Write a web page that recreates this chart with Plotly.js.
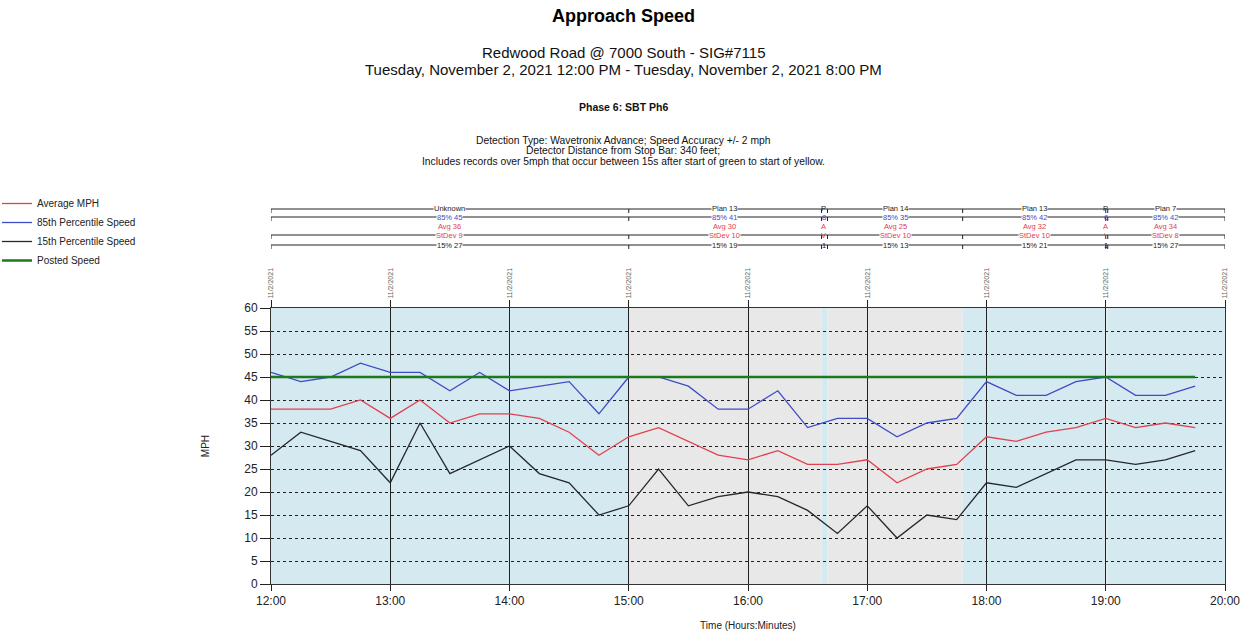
<!DOCTYPE html>
<html>
<head>
<meta charset="utf-8">
<script src="https://cdn.plot.ly/plotly-3.0.1.min.js"></script>
<style>html,body{margin:0;padding:0;background:#fff;}#chart{width:1247px;height:634px;}</style>
</head>
<body>
<div id="chart"></div>
<script>
// ---- data ----
const times = [
  '2021-11-02 12:00','2021-11-02 12:15','2021-11-02 12:30','2021-11-02 12:45',
  '2021-11-02 13:00','2021-11-02 13:15','2021-11-02 13:30','2021-11-02 13:45',
  '2021-11-02 14:00','2021-11-02 14:15','2021-11-02 14:30','2021-11-02 14:45',
  '2021-11-02 15:00','2021-11-02 15:15','2021-11-02 15:30','2021-11-02 15:45',
  '2021-11-02 16:00','2021-11-02 16:15','2021-11-02 16:30','2021-11-02 16:45',
  '2021-11-02 17:00','2021-11-02 17:15','2021-11-02 17:30','2021-11-02 17:45',
  '2021-11-02 18:00','2021-11-02 18:15','2021-11-02 18:30','2021-11-02 18:45',
  '2021-11-02 19:00','2021-11-02 19:15','2021-11-02 19:30','2021-11-02 19:45'
];
const avgMph = [38,38,38,40,36,40,35,37,37,36,33,28, 32,34,31,28,27,29,26,26,27,22,25,26, 32,31,33,34,36,34,35,34];
const pct85  = [46,44,45,48,46,46,42,46,42,43,44,37, 45,45,43,38,38,42,34,36,36,32,35,36, 44,41,41,44,45,41,41,43];
const pct15  = [28,33,31,29,22,35,24,27,30,24,22,15, 17,25,17,19,20,19,16,11,17,10,15,14, 22,21,24,27,27,26,27,29];
const postedTimes = ['2021-11-02 12:00','2021-11-02 19:45'];
const postedSpeed = [45,45];

// plans
const planStarts = ['2021-11-02 12:00','2021-11-02 15:00','2021-11-02 16:37','2021-11-02 16:40','2021-11-02 17:48','2021-11-02 19:00','2021-11-02 19:01'];
const planEnds   = ['2021-11-02 15:00','2021-11-02 16:37','2021-11-02 16:40','2021-11-02 17:48','2021-11-02 19:00','2021-11-02 19:01','2021-11-02 20:00'];
const planNames  = ['Unknown','Plan 13','P','Plan 14','Plan 13','P','Plan 7'];
const plan85     = ['85% 45','85% 41','8','85% 35','85% 42','6','85% 42'];
const planAvg    = ['Avg 36','Avg 30','A','Avg 25','Avg 32','A','Avg 34'];
const planSD     = ['StDev 9','StDev 10','V','StDev 10','StDev 10','\\','StDev 8'];
const plan15     = ['15% 27','15% 19','1','15% 13','15% 21','1','15% 27'];

const FONT = 'Liberation Sans, Arial, sans-serif';

// ---- helpers ----
function tms(s){ return new Date(s.replace(' ','T')+':00Z').getTime(); }
function mid(a,b){ const m = new Date((tms(a)+tms(b))/2); return m.toISOString().slice(0,16).replace('T',' '); }
const PH = 276, PB = 584; // plot height / bottom in px, for paper positions of decorations
function py(px){ return (PB-px)/PH; }

const traces = [
  {x: times, y: avgMph, name: 'Average MPH', type:'scatter', mode:'lines', line:{color:'#e2404e', width:1.3}},
  {x: times, y: pct85, name: '85th Percentile Speed', type:'scatter', mode:'lines', line:{color:'#3d4cc6', width:1.3}},
  {x: times, y: pct15, name: '15th Percentile Speed', type:'scatter', mode:'lines', line:{color:'#23282e', width:1.3}},
  {x: postedTimes, y: postedSpeed, name: 'Posted Speed', type:'scatter', mode:'lines', xaxis:'x2', line:{color:'#1b7a1b', width:2.5}}
];

const shapes = [];
const bandColors = ['#d5e9f1','#e8e8e8'];
for (let i=0;i<planStarts.length;i++){
  shapes.push({type:'rect', xref:'x', yref:'paper', x0:planStarts[i], x1:planEnds[i], y0:0, y1:1,
    fillcolor: bandColors[i%2], line:{width:0}, layer:'below'});
}
// row lines for plan table
const lineRows = [py(209), py(217), py(235), py(245)];
const tickLen = 4/PH;
const bounds = planStarts.concat([planEnds[planEnds.length-1]]);
lineRows.forEach(r=>{
  shapes.push({type:'line', xref:'x', yref:'paper', x0:bounds[0], x1:bounds[bounds.length-1], y0:r, y1:r, line:{color:'#222', width:1}});
  bounds.forEach(b=>{
    shapes.push({type:'line', xref:'x', yref:'paper', x0:b, x1:b, y0:r, y1:r-tickLen, line:{color:'#222', width:1}});
  });
});

const annotations = [];
const textRows = [
  {arr: planNames, y: py(208), color:'#222'},
  {arr: plan85,    y: py(217), color:'#3d4cc6'},
  {arr: planAvg,   y: py(226), color:'#e2404e'},
  {arr: planSD,    y: py(235), color:'#e2404e'},
  {arr: plan15,    y: py(245), color:'#222'}
];
textRows.forEach(row=>{
  for (let i=0;i<planStarts.length;i++){
    annotations.push({xref:'x', yref:'paper', x: mid(planStarts[i], planEnds[i]), y: row.y,
      text: row.arr[i], showarrow:false, font:{family:FONT, size:7.5, color:row.color},
      bgcolor: (planNames[i]==='P') ? 'rgba(0,0,0,0)' : '#ffffff', borderpad:0, xanchor:'center', yanchor:'middle'});
  }
});
const cx = (623-271)/954;
const textBlocks = [
  {t:'Redwood Road @ 7000 South - SIG#7115', y:py(52), s:15},
  {t:'Tuesday, November 2, 2021 12:00 PM - Tuesday, November 2, 2021 8:00 PM', y:py(70), s:15},
  {t:'<b>Phase 6: SBT Ph6</b>', y:py(107), s:10.5},
  {t:'Detection Type: Wavetronix Advance; Speed Accuracy +/- 2 mph', y:py(140), s:10.3},
  {t:'Detector Distance from Stop Bar: 340 feet;', y:py(151), s:10.3},
  {t:'Includes records over 5mph that occur between 15s after start of green to start of yellow.', y:py(161), s:10.3}
];
textBlocks.forEach(tb=>{
  annotations.push({xref:'paper', yref:'paper', x:cx, y:tb.y, text:tb.t, showarrow:false,
    font:{family:FONT, size:tb.s, color:'#111'}, xanchor:'center', yanchor:'middle'});
});

const layout = {
  width:1247, height:634,
  margin:{l:271, r:22, t:308, b:50, pad:0, autoexpand:false},
  paper_bgcolor:'#ffffff', plot_bgcolor:'#ffffff',
  font:{family:FONT, color:'#222'},
  title:{text:'<b>Approach Speed</b>', x:0.5, xref:'container', y:1-16/634, yref:'container', yanchor:'middle', xanchor:'center',
    font:{family:FONT, size:18, color:'#000'}},
  showlegend:true,
  legend:{x:(-3-271)/954, y:py(189), xanchor:'left', yanchor:'top', bgcolor:'rgba(0,0,0,0)', font:{family:FONT, size:10, color:'#222'}, itemwidth:30, tracegroupgap:0},
  xaxis:{type:'date', range:['2021-11-02 12:00','2021-11-02 20:00'], dtick:3600000, tick0:'2021-11-02 12:00',
    tickformat:'%H:%M', showgrid:true, gridcolor:'#222', gridwidth:1, ticks:'outside', ticklen:6, tickcolor:'#222',
    showline:true, linecolor:'#333', linewidth:1, mirror:false, zeroline:false, automargin:false,
    tickfont:{family:FONT, size:12, color:'#222'},
    title:{text:'Time (Hours:Minutes)', font:{family:FONT, size:10, color:'#222'}, standoff:14}},
  xaxis2:{type:'date', overlaying:'x', side:'top', anchor:'y', range:['2021-11-02 12:00','2021-11-02 20:00'], dtick:3600000, tick0:'2021-11-02 12:00',
    tickformat:'%-m/%-d/%Y', tickangle:-90, showgrid:false, ticks:'outside', ticklen:7, tickcolor:'#222',
    showline:true, linecolor:'#333', linewidth:1, zeroline:false, automargin:false,
    tickfont:{family:FONT, size:7, color:'#666'}},
  yaxis:{range:[0,60], dtick:5, tick0:0, showgrid:true, gridcolor:'#222', griddash:'dot', gridwidth:1,
    ticks:'outside', ticklen:10, tickcolor:'#222', showline:true, linecolor:'#333', linewidth:1, mirror:true, zeroline:false, automargin:false,
    tickfont:{family:FONT, size:12, color:'#222'},
    title:{text:'MPH', font:{family:FONT, size:10, color:'#222'}, standoff:32}},
  shapes: shapes,
  annotations: annotations
};

Plotly.newPlot('chart', traces, layout, {displayModeBar:false, staticPlot:true});
</script>
</body>
</html>
